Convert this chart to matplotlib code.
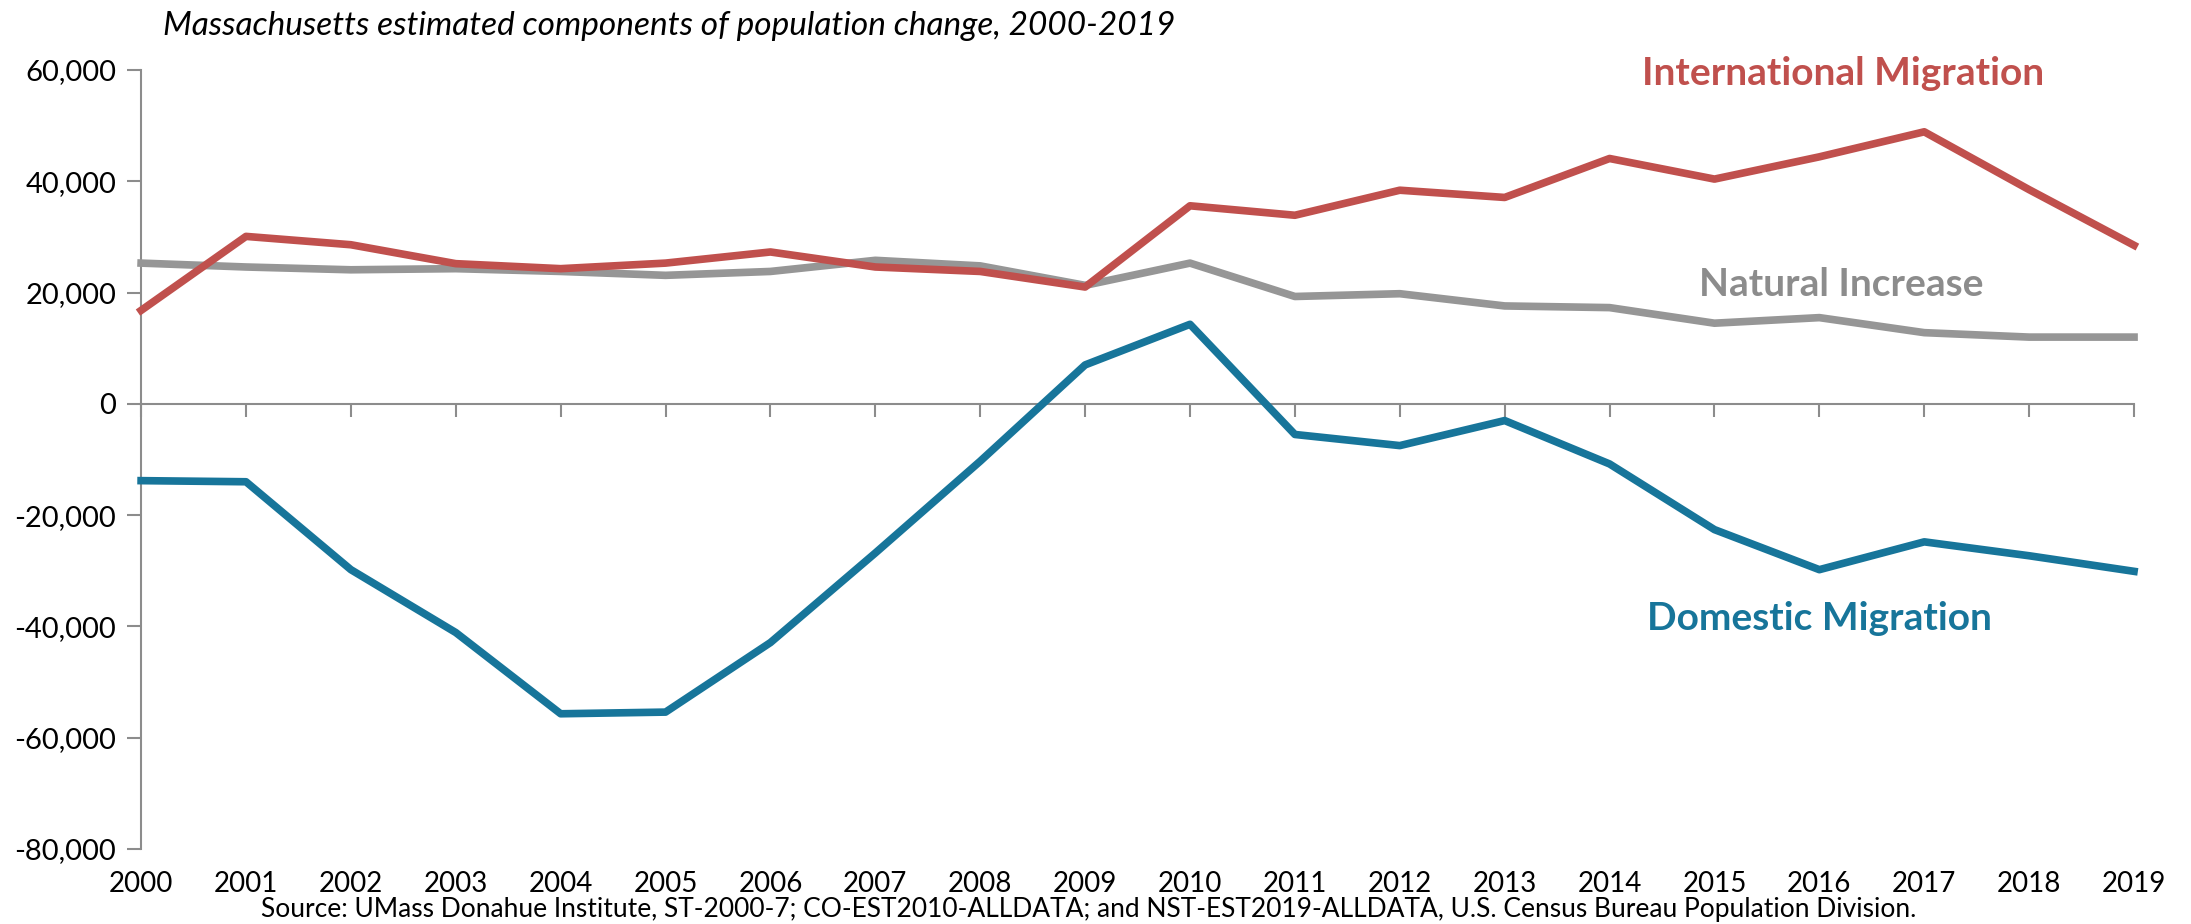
import matplotlib.pyplot as plt

# Massachusetts components of population change
years = list(range(2000, 2020))
international = [16800, 30100, 28600, 25200, 24300, 25300, 27300, 24600, 23800, 21000,
                 35600, 33900, 38400, 37100, 44100, 40400, 44400, 48900, 38500, 28500]
natural = [25300, 24600, 24100, 24300, 23800, 23100, 23800, 25800, 24800, 21300,
           25300, 19300, 19800, 17600, 17300, 14500, 15500, 12800, 12000, 12000]
domestic = [-13800, -14000, -29800, -41100, -55700, -55400, -42900, -26800, -10300, 7000,
            14300, -5500, -7500, -3000, -10800, -22600, -29800, -24800, -27300, -30100]
y_ticks = [60000, 40000, 20000, 0, -20000, -40000, -60000, -80000]

red = "#C0504D"
gray = "#969696"
blue = "#17759A"
axis_gray = "#8C8C8C"

plt.rcParams['font.family'] = ['Lato', 'DejaVu Sans']

fig = plt.figure(figsize=(21.91, 9.24), dpi=100)
ax = fig.add_axes([0.0644, 0.0812, 0.9096, 0.8430])

# natural increase drawn first so the red line sits on top
ax.plot(years, natural, color=gray, linewidth=5.5, clip_on=False, zorder=3)
ax.plot(years, international, color=red, linewidth=5.5, clip_on=False, zorder=4)
ax.plot(years, domestic, color=blue, linewidth=5.5, clip_on=False, zorder=4)

ax.set_xlim(2000, 2019)
ax.set_ylim(-80000, 60000)
ax.set_yticks(y_ticks)
ax.set_yticklabels([f"{v:,}" for v in y_ticks], fontsize=21)

for side in ["top", "right"]:
    ax.spines[side].set_visible(False)
ax.spines["left"].set_color(axis_gray)
ax.spines["left"].set_linewidth(1.5)
ax.spines["bottom"].set_position(("data", 0))
ax.spines["bottom"].set_color(axis_gray)
ax.spines["bottom"].set_linewidth(1.5)
ax.set_xticks(years)
ax.tick_params(axis="x", length=9, width=1.5, color=axis_gray, labelbottom=False)
ax.tick_params(axis="y", length=10, width=1.5, color=axis_gray, pad=8)

# year labels sit below the plot, not at the zero line
sec = ax.secondary_xaxis("bottom")
sec.set_xticks(years)
sec.set_xticklabels([str(y) for y in years], fontsize=20)
sec.tick_params(length=0, pad=16)
sec.spines["bottom"].set_visible(False)

ax.text(0.854, 0.995, "International Migration", transform=ax.transAxes, color=red,
        fontsize=28, fontweight="bold", ha="center", va="center")
ax.text(0.853, 0.725, "Natural Increase", transform=ax.transAxes, color="#8C8C8C",
        fontsize=28, fontweight="bold", ha="center", va="center")
ax.text(0.842, 0.296, "Domestic Migration", transform=ax.transAxes, color=blue,
        fontsize=28, fontweight="bold", ha="center", va="center")

fig.text(0.0746, 0.972, "Massachusetts estimated components of population change, 2000-2019",
         fontsize=24, style="italic", ha="left", va="center")
fig.text(0.497, 0.002, "Source: UMass Donahue Institute, ST-2000-7; CO-EST2010-ALLDATA; and "
         "NST-EST2019-ALLDATA, U.S. Census Bureau Population Division.",
         fontsize=19, ha="center", va="bottom")

fig.savefig("out.png", dpi=100)
